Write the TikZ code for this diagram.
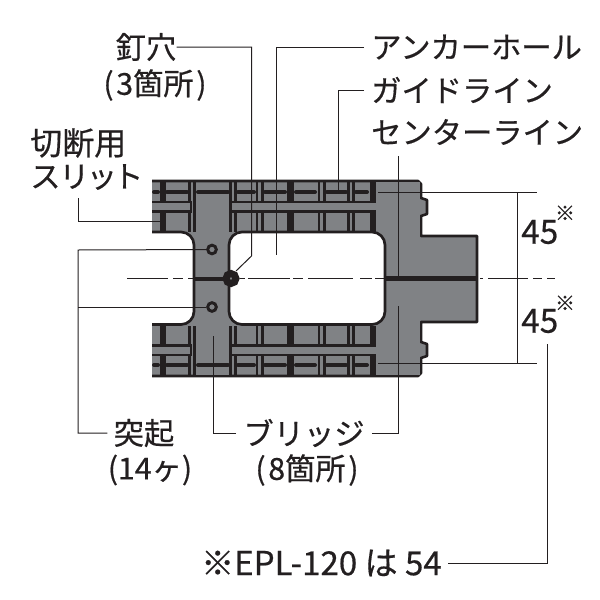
\documentclass[tikz,border=0pt]{standalone}
\usepackage{fontspec}
\setmainfont[RawFeature={embolden=0.5}]{Noto Sans CJK JP}
\definecolor{plategray}{HTML}{808285}
\definecolor{ribdark}{HTML}{231F20}
\begin{document}
\begin{tikzpicture}[x=0.75pt,y=-0.75pt]
		\tikzset{mynode/.style={font=\fontsize{22.7}{26}\selectfont,inner sep=0pt,text=ribdark},
			leader/.style={line width=0.75pt,draw=ribdark},
			rib/.style={line width=2.1pt,draw=ribdark},
			edge/.style={line width=2pt,draw=ribdark,line join=round}}
		\useasboundingbox (0,0) rectangle (600,600);
		%Begin plate
		\fill[plategray] (152,181) -- (418,181) -- (421,184) -- (421,198) -- (427,200) -- (427,214) -- (421,216) -- (421,236) -- (477,236) -- (477,322) -- (421,322) -- (421,342) -- (427,344) -- (427,356) -- (421,358) -- (421,373) -- (418,376) -- (152,376) -- cycle;
		\draw[edge] (152,181) -- (418,181) -- (421,184) -- (421,198) -- (427,200) -- (427,214) -- (421,216) -- (421,236) -- (477,236) -- (477,322) -- (421,322) -- (421,342) -- (427,344) -- (427,356) -- (421,358) -- (421,373) -- (418,376) -- (152,376);
		%Rails, the lower one is the upper one mirrored
		\foreach \r in {1,-1}{
			\begin{scope}[shift={(0,278.5)},yscale=\r]
				\foreach \x in {192,233,259.5,321.5,351}
					\draw[rib] (\x-2.6,-97) -- (\x-2.6,-47) (\x+2.6,-97) -- (\x+2.6,-47);
				\foreach \x/\w in {163/6,290.5/7.5,373/6.5}
					\draw[ribdark,line width=\w*0.75pt] (\x,-97) -- (\x,-47);
				\foreach \a/\b in {154/158,167/187,238/254,265/285,296/315,327/346,356/367}
					\draw[ribdark,line width=3pt,line cap=round] (\a,-86.5) -- (\b,-86.5);
				\foreach \a/\b in {152/191,232/386}{
					\fill[plategray] (\a,-76.5) rectangle (\b,-67);
					\draw[line width=1.7pt,draw=ribdark] (\a,-76.5) -- (\b,-76.5) -- (\b,-67) -- (\a,-67);
				}
				\fill[plategray] (196,-96) rectangle (229,-46);
				\draw[ribdark,line width=3pt,line cap=round] (198,-86.5) -- (228,-86.5);
			\end{scope}
		}
		\fill[plategray] (376,182) -- (376,375) -- (420,375) -- (420,182) -- cycle;
		%Openings
		\draw[edge,fill=white,rounded corners=13*0.75pt] (152,232) -- (194,232) -- (194,324.5) -- (152,324.5);
		\fill[white] (140,233) rectangle (151,324);
		\draw[edge,fill=white,rounded corners=13*0.75pt] (229,232) rectangle (385,324.5);
		\draw[ribdark,line width=3pt] (194,278.5) -- (229,278.5);
		\draw[ribdark,line width=3.2pt] (385,278.5) -- (477,278.5);
		%Centre line
		\foreach \a/\b in {127/168,173/183,188/194,240/245,248/290,293/303,308/353,360/372,375/385,480/483,488/528,533/542,547/555}
			\draw[leader] (\a,278.5) -- (\b,278.5);
		%Holes
		\node[circle,draw=ribdark,line width=2.2pt,fill=plategray,minimum size=6.5pt,inner sep=0pt] (dotup) at (212,249.5) {};
		\node[circle,draw=ribdark,line width=2.2pt,fill=plategray,minimum size=6.5pt,inner sep=0pt] (dotdown) at (212,307) {};
		\node[circle,draw=ribdark,line width=5.2pt,fill=plategray,minimum size=7.5pt,inner sep=0pt] (nailhole) at (231,278.5) {};
		\coordinate (anchorhole) at (276.5,255);
		\coordinate (guide) at (338,192);
		\coordinate (centerup) at (398.5,278.5);
		\coordinate (centertop) at (398.5,156);
		\coordinate (bridgeleft) at (213,336);
		\coordinate (bridgeright) at (398.5,306);
		\coordinate (slit) at (160,221);
		\coordinate (dimtopa) at (378,192);
		\coordinate (dimtopb) at (537,192);
		\coordinate (dimbota) at (378,363);
		\coordinate (dimbotb) at (537,363);
		\coordinate (dimup) at (517,192);
		\coordinate (dimdown) at (517,363);
		\coordinate (noteend) at (547,344);
		\coordinate (nailbend) at (251.5,256);
		\coordinate (nailend) at (236,271);
		%Labels
		\node[mynode,anchor=center] (nail) at (146,47) {釘穴};
		\node[mynode,anchor=center] (nailnote) at (155,85) {(\kern2pt3箇所\kern2pt)};
		\node[mynode,anchor=west] (anchorlabel) at (371,47) {アンカーホール};
		\node[mynode,anchor=west] (guidelabel) at (371,90) {ガイドライン};
		\node[mynode,anchor=west] (centerlabel) at (371,132) {センターライン};
		\node[mynode,anchor=west,font=\fontsize{24}{28}\selectfont] (cutlabel) at (30,143) {切断用};
		\node[mynode,anchor=west] (slitlabel) at (30,177) {ス\kern-1ptリ\kern-2ptッ\kern-3ptト};
		\node[mynode,anchor=center] (bumplabel) at (144,433) {突起};
		\node[mynode,anchor=center] (bumpnote) at (150,470) {(14ヶ)};
		\node[mynode,anchor=center] (bridgelabel) at (304,433) {ブリッジ};
		\node[mynode,anchor=center] (bridgenote) at (307,470) {(\kern2pt8箇所\kern2pt)};
		\node[mynode,anchor=east,font=\fontsize{24.8}{28}\selectfont] (notelabel) at (442,563) {※EPL-120 は 54};
		\node[mynode,anchor=west,font=\fontsize{25}{28}\selectfont] (dimup45) at (521,232) {45};
		\node[mynode,anchor=west,font=\fontsize{25}{28}\selectfont] (dimdown45) at (521,321) {45};
		\node[mynode,font=\fontsize{15}{17}\selectfont] (starup) at (565,213) {※};
		\node[mynode,font=\fontsize{15}{17}\selectfont] (stardown) at (565,303) {※};
		%Leaders
		\draw[leader] (nail.east) -| (nailbend) -- (nailend);
		\draw[leader] (anchorlabel.west) ++(-7,0) -| (anchorhole);
		\draw[leader] (guidelabel.west) ++(-7,0) -| (guide);
		\draw[leader] (centertop) -- (centerup);
		\draw[leader] (slitlabel.south west) ++(48,8) |- (slit);
		\draw[leader] (bumplabel.west) ++(-6,0) -| (78,250) -- (dotup);
		\draw[leader] (78,307) -- (dotdown);
		\draw[leader] (bridgelabel.west) ++(-7,0) -| (bridgeleft);
		\draw[leader] (bridgelabel.east) ++(7,0) -| (bridgeright);
		\draw[leader] (dimtopa) -- (dimtopb);
		\draw[leader] (dimbota) -- (dimbotb);
		\draw[leader] (dimup) -- (dimdown);
		\draw[leader] (notelabel.east) ++(6,0) -| (noteend);
	\end{tikzpicture}
\end{document}
